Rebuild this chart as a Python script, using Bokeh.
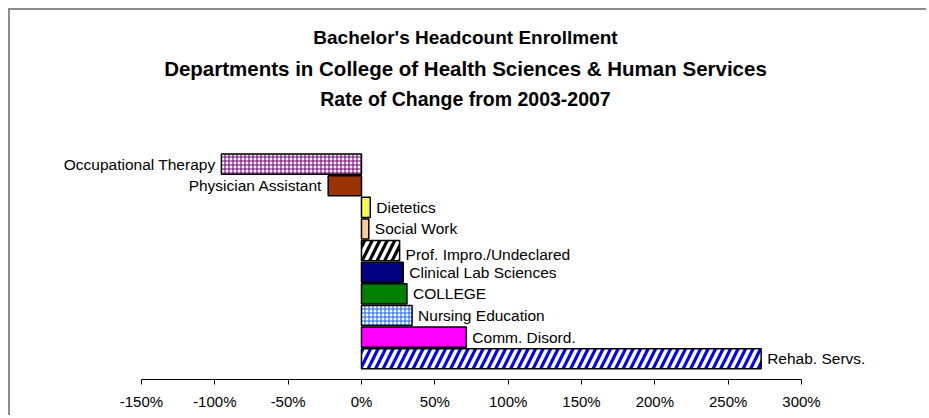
from bokeh.plotting import figure
from bokeh.layouts import column
from bokeh.models import Range1d, FixedTicker, PrintfTickFormatter, ColumnDataSource, Label
from bokeh.core.properties import value
from bokeh.embed import file_html
from bokeh.resources import INLINE

# ---------------- data (top to bottom as drawn) ----------------
departments = ["Occupational Therapy", "Physician Assistant", "Dietetics", "Social Work",
               "Prof. Impro./Undeclared", "Clinical Lab Sciences", "COLLEGE",
               "Nursing Education", "Comm. Disord.", "Rehab. Servs."]
rate_change = [-95.5, -22.7, 6.0, 5.0, 26.0, 28.5, 31.0, 34.5, 71.5, 272.5]
fill_colors = ["white", "#993300", "#ffff00", "#ffcc99", "white",
               "#000080", "#008000", "white", "#ff00ff", "white"]
hatch_patterns = ["+", " ", "|", " ", "/", " ", " ", "+", " ", "/"]
hatch_colors = ["#77007a", "black", "white", "black", "black",
                "black", "black", "#1a66ff", "black", "#0000ff"]
x_ticks = [-150, -100, -50, 0, 50, 100, 150, 200, 250, 300]
title_lines = ["Bachelor's Headcount Enrollment",
               "Departments in College of Health Sciences & Human Services",
               "Rate of Change from 2003-2007"]

# ---------------- layout ----------------
n = len(departments)
ypos = list(range(n - 1, -1, -1))
hscale = [4 if h == "+" else (15 if h == "/" else 3) for h in hatch_patterns]
hweight = [1.1 if h == "+" else (3.2 if h == "/" else 1) for h in hatch_patterns]
aligns = ["right" if v < 0 else "left" for v in rate_change]
xoffs = [-6 if v < 0 else 6 for v in rate_change]
yoffs = [4 if d.startswith("Prof.") else 0 for d in departments]

src = ColumnDataSource(dict(dept=departments, val=rate_change, y=ypos, fill=fill_colors,
                            hp=hatch_patterns, hc=hatch_colors, hs=hscale, hw=hweight,
                            align=aligns, xoff=xoffs, yoff=yoffs))

x_start, x_end = -239.3, 386.6
p = figure(width=918, height=407,
           x_range=Range1d(x_start, x_end), y_range=Range1d(-0.957, 16.10),
           y_axis_location=None, toolbar_location=None, output_backend="svg",
           min_border=0, min_border_bottom=38, outline_line_color=None)
p.xgrid.visible = False
p.ygrid.visible = False

p.hbar(y="y", left=0, right="val", height=0.93, source=src,
       fill_color="fill", line_color="black", line_width=1.5,
       hatch_pattern="hp", hatch_color="hc", hatch_scale="hs", hatch_weight="hw")

p.text(x="val", y="y", text="dept", x_offset="xoff", y_offset="yoff", text_align="align",
       text_baseline="middle", text_font=value("Liberation Sans"),
       text_font_size="15.5px", text_color="black", source=src)

title_y = [14.87, 13.40, 12.03]
title_sizes = ["19px", "20.5px", "19.5px"]
title_cx = (-150 + 300) / 2 + (465 - 471) / 1.46667
for line, ty, fs in zip(title_lines, title_y, title_sizes):
    p.add_layout(Label(x=title_cx, y=ty, text=line, text_align="center",
                       text_baseline="middle", text_font="Liberation Sans",
                       text_font_size=fs, text_font_style="bold", text_color="black"))

ax = p.xaxis[0]
ax.ticker = FixedTicker(ticks=x_ticks)
ax.formatter = PrintfTickFormatter(format="%d%%")
ax.bounds = (x_ticks[0], x_ticks[-1])
ax.major_tick_in = 0
ax.major_tick_out = 5
ax.minor_tick_in = 0
ax.minor_tick_out = 0
ax.major_label_standoff = 8
ax.major_label_text_font = "Liberation Sans"
ax.major_label_text_font_size = "15px"
ax.major_label_text_color = "black"
ax.axis_line_color = "black"
ax.major_tick_line_color = "black"

root = column(p, styles={"margin-left": "10px", "margin-top": "10px",
                         "box-shadow": "-2px -2px 0px 0px #8c8c8c"})

open("out.html", "w").write(file_html(root, INLINE))
